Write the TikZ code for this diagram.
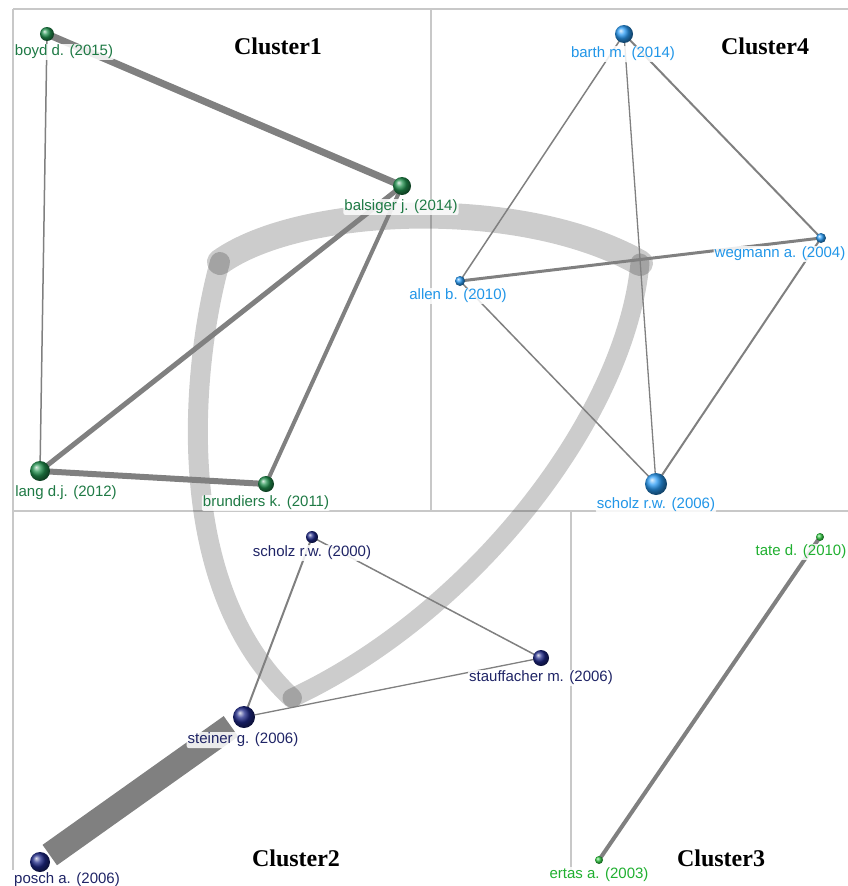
\documentclass[tikz,border=0pt]{standalone}
\usepackage{fontspec}
\setmainfont{Liberation Sans}
\newfontfamily\titlefont{Liberation Serif}
\definecolor{frameline}{HTML}{C8C8C8}
\definecolor{edgegray}{HTML}{808080}
\definecolor{gAball}{HTML}{22924F}
\definecolor{gAtext}{HTML}{1F7A45}
\definecolor{bBball}{HTML}{2A9CF5}
\definecolor{bBtext}{HTML}{2196E8}
\definecolor{nCball}{HTML}{1E2888}
\definecolor{nCtext}{HTML}{1F2466}
\definecolor{lDball}{HTML}{33CC44}
\definecolor{lDtext}{HTML}{20B030}
\tikzset{
  panel/.style={draw=frameline, line width=1.2pt},
  linkarc/.style={draw=black, draw opacity=0.2, line cap=round},
  edge/.style={draw=edgegray},
  lbl/.style={font=\fontsize{15}{17}\selectfont, fill=white, fill opacity=0.85,
              text opacity=1, inner sep=1pt, rounded corners=2pt},
  sphere/.style={circle, inner sep=0pt, shading=ball, ball color=#1},
  ctitle/.style={font=\titlefont\bfseries\fontsize{24}{28}\selectfont, inner sep=0pt}
}
\begin{document}
\begin{tikzpicture}[x=1pt,y=-1pt]
\useasboundingbox (0,0) rectangle (848,886);

% panel frame
\draw[panel] (13,9) -- (848,9);
\draw[panel] (13,9) -- (13,870);
\draw[panel] (431,9) -- (431,511);
\draw[panel] (13,511) -- (848,511);
\draw[panel] (571,511) -- (571,870);

% node positions
\coordinate (boyd) at (47,34);
\coordinate (balsiger) at (402,186);
\coordinate (lang) at (40,471);
\coordinate (brundiers) at (266,484);
\coordinate (barth) at (624,34);
\coordinate (allen) at (460,281);
\coordinate (wegmann) at (821,238);
\coordinate (scholzA) at (656,484);
\coordinate (scholzB) at (312,537);
\coordinate (stauffacher) at (541,658);
\coordinate (steiner) at (244,717);
\coordinate (posch) at (40,862);
\coordinate (tate) at (820,537);
\coordinate (ertas) at (599,860);

% inter-cluster links
\coordinate (hubA) at (220,262);
\coordinate (hubB) at (640,263);
\coordinate (hubC) at (292,698);
\draw[linkarc, line width=26pt] (hubA) .. controls (300,205) and (520,195) .. (hubB);
\draw[linkarc, line width=20pt] (hubA) .. controls (195,350) and (165,580) .. (hubC);
\draw[linkarc, line width=19pt] (hubB) .. controls (625,420) and (470,615) .. (hubC);

% cluster 1 edges
\draw[edge, line width=7pt] (boyd) -- (balsiger);
\draw[edge, line width=1.5pt] (boyd) -- (lang);
\draw[edge, line width=5pt] (balsiger) -- (lang);
\draw[edge, line width=4pt] (balsiger) -- (brundiers);
\draw[edge, line width=6pt] (lang) -- (brundiers);

% cluster 4 edges
\draw[edge, line width=1.5pt] (barth) -- (allen);
\draw[edge, line width=1.3pt] (barth) -- (scholzA);
\draw[edge, line width=2pt] (barth) -- (wegmann);
\draw[edge, line width=3pt] (allen) -- (wegmann);
\draw[edge, line width=1.5pt] (allen) -- (scholzA);
\draw[edge, line width=2pt] (wegmann) -- (scholzA);

% cluster 2 edges
\draw[edge, line width=2pt] (scholzB) -- (steiner);
\draw[edge, line width=1.5pt] (scholzB) -- (stauffacher);
\draw[edge, line width=1.3pt] (steiner) -- (stauffacher);
\draw[edge, line width=25pt, shorten <=12pt, shorten >=16pt] (posch) -- (steiner);

% cluster 3 edge
\draw[edge, line width=4pt] (tate) -- (ertas);

% labels
\node[lbl, text=gAtext] (boydL) at (64,52) {boyd d. (2015)};
\node[lbl, text=gAtext] (balsigerL) at (401,207) {balsiger j. (2014)};
\node[lbl, text=gAtext] (langL) at (66,493) {lang d.j. (2012)};
\node[lbl, text=gAtext] (brundiersL) at (266,503) {brundiers k. (2011)};
\node[lbl, text=bBtext] (barthL) at (623,54) {barth m. (2014)};
\node[lbl, text=bBtext] (allenL) at (458,296) {allen b. (2010)};
\node[lbl, text=bBtext] (wegmannL) at (780,254) {wegmann a. (2004)};
\node[lbl, text=bBtext] (scholzAL) at (656,505) {scholz r.w. (2006)};
\node[lbl, text=nCtext] (scholzBL) at (312,553) {scholz r.w. (2000)};
\node[lbl, text=nCtext] (stauffacherL) at (541,678) {stauffacher m. (2006)};
\node[lbl, text=nCtext] (steinerL) at (243,740) {steiner g. (2006)};
\node[lbl, text=nCtext] (poschL) at (67,880) {posch a. (2006)};
\node[lbl, text=lDtext] (tateL) at (801,552) {tate d. (2010)};
\node[lbl, text=lDtext] (ertasL) at (599,875) {ertas a. (2003)};

% spheres
\node[sphere=gAball, minimum size=14pt] (boydS) at (boyd) {};
\node[sphere=gAball, minimum size=18pt] (balsigerS) at (balsiger) {};
\node[sphere=gAball, minimum size=20pt] (langS) at (lang) {};
\node[sphere=gAball, minimum size=16pt] (brundiersS) at (brundiers) {};
\node[sphere=bBball, minimum size=18pt] (barthS) at (barth) {};
\node[sphere=bBball, minimum size=10pt] (allenS) at (allen) {};
\node[sphere=bBball, minimum size=10pt] (wegmannS) at (wegmann) {};
\node[sphere=bBball, minimum size=22pt] (scholzAS) at (scholzA) {};
\node[sphere=nCball, minimum size=12pt] (scholzBS) at (scholzB) {};
\node[sphere=nCball, minimum size=16pt] (stauffacherS) at (stauffacher) {};
\node[sphere=nCball, minimum size=22pt] (steinerS) at (steiner) {};
\node[sphere=nCball, minimum size=20pt] (poschS) at (posch) {};
\node[sphere=lDball, minimum size=8pt] (tateS) at (tate) {};
\node[sphere=lDball, minimum size=8pt] (ertasS) at (ertas) {};

% cluster titles
\node[ctitle] (t1) at (278,46) {Cluster1};
\node[ctitle] (t4) at (765,46) {Cluster4};
\node[ctitle] (t2) at (296,858) {Cluster2};
\node[ctitle] (t3) at (721,858) {Cluster3};
\end{tikzpicture}
\end{document}
